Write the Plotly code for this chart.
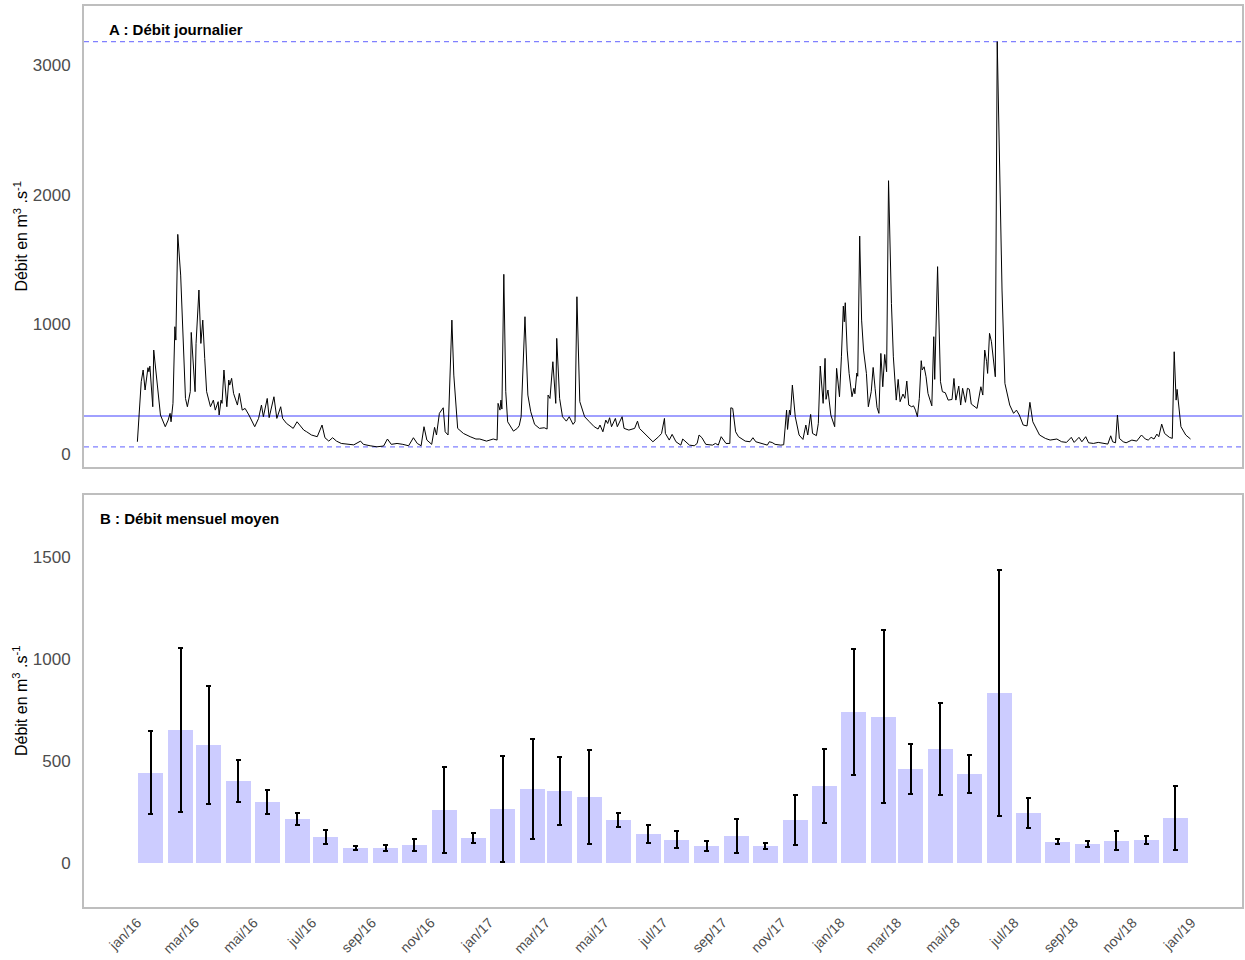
import pandas as pd
import plotly.graph_objects as go

# ---------------- data ----------------
origin = pd.Timestamp("2016-01-01")

# Daily discharge (day index since 2016-01-01, value in m3/s)
flow_day = [
    0, 4, 6, 8, 11, 12, 13, 16, 17, 21, 24, 29, 32, 34, 35, 37, 39, 40, 42, 45, 48, 50, 52, 55, 56,
    60, 61, 64, 66, 68, 70, 72, 76, 79, 81, 84, 85, 87, 88, 90, 93, 95, 96, 98, 100, 104, 106, 109,
    112, 116, 122, 126, 129, 131, 135, 137, 142, 145, 149, 151, 155, 162, 166, 169, 173, 176, 181,
    187, 192, 195, 199, 203, 207, 212, 218, 225, 232, 235, 242, 249, 256, 260, 264, 270, 276, 282,
    287, 291, 295, 298, 301, 306, 309, 311, 314, 316, 318, 320, 323, 327, 329, 333, 339, 346, 352,
    356, 363, 370, 374, 375, 377, 378, 379, 381, 383, 385, 391, 395, 397, 399, 401, 403, 406, 409,
    413, 418, 423, 426, 427, 429, 432, 435, 436, 439, 442, 446, 449, 453, 455, 457, 460, 465, 470,
    475, 479, 481, 484, 487, 489, 491, 493, 497, 499, 504, 506, 511, 517, 520, 522, 527, 532, 536,
    542, 545, 548, 549, 553, 556, 560, 565, 567, 570, 574, 579, 582, 584, 587, 591, 598, 601, 604,
    607, 612, 616, 617, 619, 622, 625, 632, 637, 640, 643, 650, 655, 657, 660, 663, 669,
    672, 675, 676, 678, 679, 681, 684, 688, 692, 695, 697, 700, 702, 706, 708, 710, 713, 715, 716,
    718, 721, 725, 727, 730, 732, 734, 735, 736, 738, 740, 743, 745, 746, 748, 749, 751, 753, 755,
    758, 760, 763, 765, 767, 769, 771, 773, 775, 777, 779, 781, 784, 786, 789, 791, 793, 796, 798,
    800, 802, 805, 807, 809, 811, 813, 815, 816, 818, 820, 822, 824, 826, 828, 829, 832, 834, 835,
    837, 840, 843, 847, 849, 851, 854, 856, 858, 861, 863, 865, 867, 873, 877, 879, 881, 883, 884,
    886, 888, 890, 892,
    894, 899, 902, 907, 911, 914, 917, 921, 925, 928, 931, 935, 938, 944, 949, 956, 961, 966, 971,
    974, 979, 982, 986, 989, 994, 999, 1004, 1009, 1012, 1014, 1017, 1019, 1021, 1025, 1028, 1034,
    1039, 1044, 1048, 1051, 1054, 1057, 1060, 1062, 1065, 1068, 1073, 1076, 1078, 1080, 1081, 1085,
    1090, 1095,
]
flow_value = [
    95, 558, 648, 494, 666, 635, 678, 365, 802, 507, 301, 211, 262, 314, 249, 391, 982, 879, 1694,
    1380, 789, 429, 365, 481, 938,
    481, 853, 1265, 853, 1033, 738, 481, 365, 416, 339, 404, 301, 416, 391, 648, 365, 571, 532, 584,
    468, 378, 468, 339,
    352, 301, 211, 275, 378, 288, 429, 281, 442, 275, 365, 275, 237, 198, 249, 224, 185, 172, 147,
    134, 224, 126, 100, 126, 100, 82, 75, 71, 100, 75, 64, 56, 62, 116, 75, 82, 75, 64,
    126, 82, 64, 211, 108, 75, 206, 147, 314, 339, 357, 172, 147, 1033, 609, 198, 159, 134, 116,
    116, 100, 116, 108, 391, 339, 416, 347, 1386, 481, 249, 177, 198, 219, 288, 686, 1059, 455, 326,
    229, 198, 203, 193, 455, 429, 712, 391, 892, 429, 288, 254, 288, 229, 249, 1213, 404, 288, 249,
    211, 193, 224, 172, 262, 236, 280, 211, 275, 211, 288, 198, 185, 198, 254, 198, 159, 121, 95,
    134, 159, 275, 159, 108, 152, 95, 69, 116, 95, 69, 64, 82, 147, 126, 75, 69, 82, 69,
    134, 82, 82, 357, 352, 172, 134, 100, 95, 126, 95, 82, 69, 95, 89, 75, 69,
    72, 339, 190, 339, 301, 532, 288, 147, 113, 224, 147, 306, 159, 142, 237, 679, 391, 738, 422,
    494, 301, 211, 661, 442, 750, 1141, 1020, 1167, 802, 622, 442, 507, 465, 625, 600, 1681, 1033, 802,
    622, 365, 481, 668, 507, 360, 314, 776, 519, 768, 635, 2108, 1162, 750, 416, 576, 404, 463, 430,
    563, 378, 365, 372, 339, 288, 430, 720, 648, 673, 596, 468, 416, 372, 905, 576, 1445, 776, 558,
    481, 473, 416, 421, 583, 416, 524, 378, 507, 399, 507, 500, 386, 352, 519, 455, 802, 712, 622,
    931, 866, 699, 596,
    3180, 1265, 545, 378, 314, 339, 301, 224, 217, 399, 249, 185, 147, 121, 108, 116, 95, 90, 129,
    90, 129, 95, 134, 87, 82, 90, 82, 77, 141, 95, 87, 301, 121, 95, 87, 108,
    100, 147, 116, 108, 129, 116, 154, 134, 231, 159, 129, 121, 789, 416, 499, 211,
    147, 116,
]

# Reference lines of panel A (max, mean, min of daily discharge)
ref_max = 3180
ref_mean = 293
ref_min = 56

# Monthly mean discharge and standard deviation (jan/16 .. dec/18)
month_mean = [441, 652, 579, 402, 298, 215, 126, 72, 72, 87, 259, 121,
              264, 362, 352, 323, 210, 141, 112, 82, 131, 82, 210, 377,
              741, 716, 460, 559, 436, 834, 244, 102, 92, 107, 112, 220]
month_sd = [204, 403, 290, 103, 57, 30, 33, 12, 17, 31, 213, 26,
            261, 246, 169, 233, 35, 46, 42, 26, 82, 14, 123, 180,
            310, 425, 122, 226, 92, 603, 74, 12, 15, 47, 21, 156]

tick_labels = ["jan/16", "mar/16", "mai/16", "jul/16", "sep/16", "nov/16",
               "jan/17", "mar/17", "mai/17", "jul/17", "sep/17", "nov/17",
               "jan/18", "mar/18", "mai/18", "jul/18", "sep/18", "nov/18", "jan/19"]

# ---------------- build ----------------
flow_dates = origin + pd.to_timedelta(flow_day, unit="D")
month_dates = pd.date_range("2016-01-01", periods=len(month_mean), freq="MS") + pd.Timedelta(days=14)
tick_dates = pd.date_range("2016-01-01", periods=len(tick_labels), freq="2MS")

FONT = "Liberation Sans, Arial, Helvetica, sans-serif"
BORDER = "#BEBEBE"
REF = "#8080FF"
BAR = "#CCCCFF"
xrange = ["2015-11-06 12:00", "2019-02-22 12:00"]

fig = go.Figure()

fig.add_trace(go.Bar(
    x=month_dates, y=month_mean, xaxis="x", yaxis="y",
    width=26 * 86400000, marker=dict(color=BAR, line=dict(width=0)),
    error_y=dict(type="data", array=month_sd, visible=True, color="black", thickness=2, width=2.5),
    showlegend=False, hoverinfo="x+y",
))

fig.add_trace(go.Scatter(
    x=flow_dates, y=flow_value, xaxis="x2", yaxis="y2", mode="lines",
    line=dict(color="black", width=1), showlegend=False,
))

shapes = []
for val, dash, w in [(ref_max, "5px,4px", 1.3), (ref_mean, "solid", 1.5), (ref_min, "5px,4px", 1.3)]:
    shapes.append(dict(type="line", xref="x2 domain", yref="y2", x0=0, x1=1, y0=val, y1=val,
                       line=dict(color=REF, width=w, dash=dash), layer="below"))

axis_common = dict(showline=True, mirror=True, linecolor=BORDER, linewidth=2,
                   showgrid=False, zeroline=False)

fig.update_layout(
    width=1245, height=960,
    margin=dict(l=84, r=1, t=6, b=53),
    paper_bgcolor="white", plot_bgcolor="white",
    font=dict(family=FONT, color="#4D4D4D"),
    bargap=0,
    shapes=shapes,
    xaxis=dict(domain=[0, 1], anchor="y", range=xrange, type="date",
               tickvals=tick_dates, ticktext=tick_labels, tickangle=-45,
               tickfont=dict(size=14, color="#4D4D4D"), ticks="", **axis_common),
    xaxis2=dict(domain=[0, 1], anchor="y2", range=xrange, type="date",
                showticklabels=False, ticks="", **axis_common),
    yaxis=dict(domain=[0, 0.4573], anchor="x", range=[-218, 1807],
               tickvals=[0, 500, 1000, 1500], tickfont=dict(size=17, color="#4D4D4D"),
               ticks="", ticklabelstandoff=8, **axis_common),
    yaxis2=dict(domain=[0.4883, 1], anchor="x2", range=[-100, 3455],
                tickvals=[0, 1000, 2000, 3000], tickfont=dict(size=17, color="#4D4D4D"),
                ticks="", ticklabelstandoff=8, **axis_common),
    annotations=[
        dict(text="<b>A : Débit journalier</b>", xref="paper", yref="y2 domain",
             x=0.0198, y=0.948, xanchor="left", yanchor="middle", showarrow=False,
             font=dict(size=15, color="black", family=FONT)),
        dict(text="<b>B : Débit mensuel moyen</b>", xref="paper", yref="y domain",
             x=0.0121, y=0.942, xanchor="left", yanchor="middle", showarrow=False,
             font=dict(size=15, color="black", family=FONT)),
        dict(text="Débit en m<sup>3</sup> .s<sup>-1</sup>", xref="paper", yref="y2 domain",
             x=-0.0552, y=0.5, xanchor="center", yanchor="middle", textangle=-90, showarrow=False,
             font=dict(size=16, color="black", family=FONT)),
        dict(text="Débit en m<sup>3</sup> .s<sup>-1</sup>", xref="paper", yref="y domain",
             x=-0.0552, y=0.5, xanchor="center", yanchor="middle", textangle=-90, showarrow=False,
             font=dict(size=16, color="black", family=FONT)),
    ],
)

fig.write_html("out.html", config={"displayModeBar": False},
               post_script="document.body.style.margin='0px';")
